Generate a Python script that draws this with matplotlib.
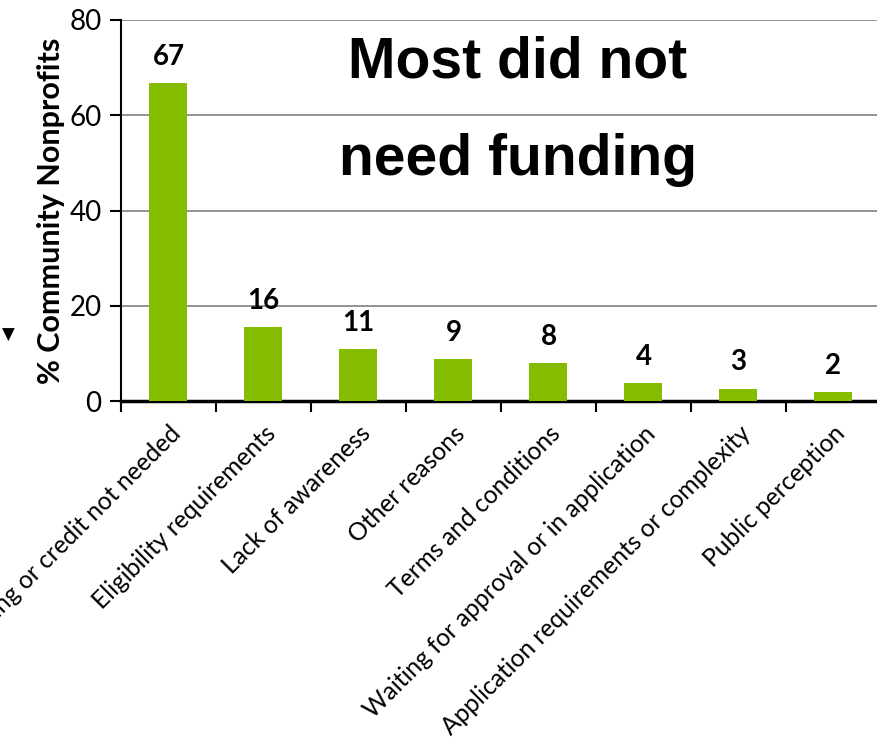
import numpy as np
import matplotlib.pyplot as plt

# survey reasons and share of community nonprofits (%)
reasons = ["Funding or credit not needed", "Eligibility requirements",
           "Lack of awareness", "Other reasons", "Terms and conditions",
           "Waiting for approval or in application",
           "Application requirements or complexity", "Public perception"]
shares = [66.7, 15.5, 10.9, 8.8, 7.9, 3.8, 2.6, 1.9]
labels = ["67", "16", "11", "9", "8", "4", "3", "2"]

green = "#84bd00"

fig = plt.figure(figsize=(8.78, 7.41), dpi=100)
ax = fig.add_axes([121 / 878, 1 - 401 / 741, 760 / 878, 381 / 741])

x = np.arange(len(reasons))
ax.bar(x, shares, width=0.4, color=green, zorder=3)
for xi, v, t in zip(x, shares, labels):
    ax.text(xi, v + 2.8, t, ha="center", va="bottom", fontsize=20,
            fontweight="bold", family="Lato")

ax.set_xlim(-0.5, len(reasons) - 0.5)
ax.set_ylim(0, 80)
ax.set_yticks([0, 20, 40, 60, 80])
ax.yaxis.grid(True, color="#808080", linewidth=1.2, zorder=0)
ax.tick_params(axis="y", labelsize=20, length=8, width=1.5, pad=6)
for lab in ax.get_yticklabels():
    lab.set_family("Lato")

# category labels at centres, tick marks at the boundaries
ax.set_xticks(x)
ax.set_xticklabels(reasons, rotation=45, ha="right", rotation_mode="anchor",
                   fontsize=17.7, family="Lato")
ax.tick_params(axis="x", which="major", length=0, pad=15)
ax.set_xticks(np.arange(-0.5, len(reasons), 1), minor=True)
ax.tick_params(axis="x", which="minor", length=8, width=1.5)

for s in ["top", "right"]:
    ax.spines[s].set_visible(False)
ax.spines["left"].set_linewidth(1.5)
ax.spines["bottom"].set_linewidth(2.5)

ax.set_ylabel("% Community Nonprofits", fontsize=22, fontweight="bold",
              family="Lato", labelpad=3)

fig.text(518 / 878, 1 - 62 / 741, "Most did not", ha="center", va="center",
         fontsize=41, fontweight="bold", family="Liberation Sans")
fig.text(518 / 878, 1 - 160 / 741, "need funding", ha="center", va="center",
         fontsize=41, fontweight="bold", family="Liberation Sans")

# bit of arrow cut off at the left edge
fig.text(8 / 878, 1 - 335 / 741, "\u25bc", ha="center", va="center",
         fontsize=12, family="DejaVu Sans")

fig.savefig("out.png", dpi=100)
